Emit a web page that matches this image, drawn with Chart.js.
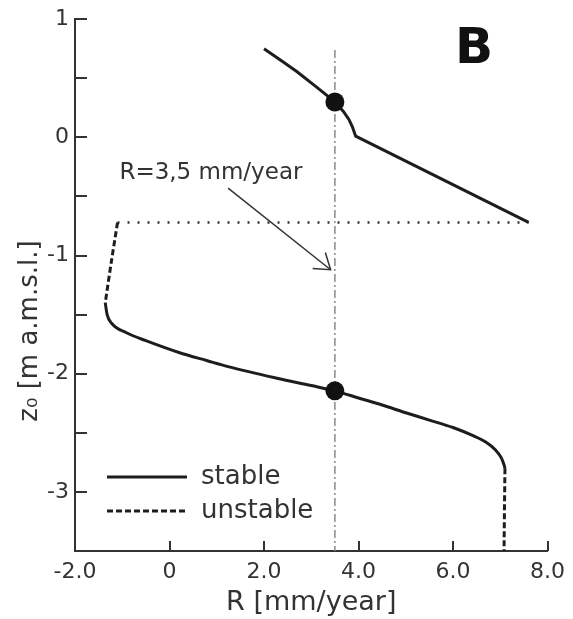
<!DOCTYPE html>
<html>
<head>
<meta charset="utf-8">
<title>z0 vs R</title>
<script src="https://cdn.jsdelivr.net/npm/chart.js@4/dist/chart.umd.min.js"></script>
<style>
  html, body { margin: 0; padding: 0; background: #fff; }
  #wrap { width: 573px; height: 619px; }
</style>
</head>
<body>
<div id="wrap"><canvas id="chart" width="573" height="619"></canvas></div>
<script>
// Upper stable branch (R in mm/year, z0 in m a.m.s.l.)
const upperR = [2.0, 2.4, 2.7, 3.1, 3.5, 3.68, 3.8, 3.87, 3.94, 7.6];
const upperZ = [0.75, 0.64, 0.555, 0.43, 0.30, 0.22, 0.15, 0.09, 0.01, -0.72];

// Lower branch: unstable top part, stable middle, unstable bottom part
const unstableTopR = [-1.1, -1.23, -1.36];
const unstableTopZ = [-0.72, -1.05, -1.40];
const stableLowR = [-1.36, -1.32, -1.22, -0.9, -0.5, 0.2, 0.8, 1.24, 2.3, 3.0, 3.5, 4.0, 4.5, 5.0, 5.5, 6.0, 6.4, 6.7, 6.9, 7.02, 7.08, 7.1];
const stableLowZ = [-1.40, -1.50, -1.575, -1.655, -1.72, -1.82, -1.89, -1.94, -2.04, -2.10, -2.145, -2.205, -2.265, -2.33, -2.392, -2.455, -2.52, -2.58, -2.645, -2.71, -2.77, -2.80];
const unstableBotR = [7.1, 7.09, 7.08];
const unstableBotZ = [-2.80, -3.1, -3.5];

// Threshold line and the R = 3.5 reference line
const thresholdZ = -0.72;
const thresholdR = [-1.1, 7.6];
const refR = 3.5;
const refZ = [0.74, -3.5];

// Intersections of the reference line with the stable branches
const equilR = [3.5, 3.5];
const equilZ = [0.30, -2.145];

// Annotation arrow (tail, head) in data units
const arrowFrom = [1.24, -0.43];
const arrowTo = [3.41, -1.12];

const FONT = "'DejaVu Sans', Verdana, sans-serif";
const INK = "#1d1d1d";

function toPoints(xs, ys) {
  return xs.map((x, i) => ({ x: x, y: ys[i] }));
}

// Inward tick marks, arrow, labels and legend
const decorations = {
  id: "decorations",
  afterDatasetsDraw(chart) {
    const ctx = chart.ctx;
    const xs = chart.scales.x;
    const ys = chart.scales.y;
    const area = chart.chartArea;

    ctx.save();
    ctx.strokeStyle = "#333";
    ctx.lineWidth = 2;
    ys.ticks.forEach((t) => {
      const py = Math.round(ys.getPixelForValue(t.value));
      ctx.beginPath();
      ctx.moveTo(area.left, py);
      ctx.lineTo(area.left + 12, py);
      ctx.stroke();
    });
    xs.ticks.forEach((t) => {
      const px = Math.round(xs.getPixelForValue(t.value));
      ctx.beginPath();
      ctx.moveTo(px, area.bottom);
      ctx.lineTo(px, area.bottom - 10);
      ctx.stroke();
    });

    // arrow pointing at the reference line
    const ax0 = xs.getPixelForValue(arrowFrom[0]);
    const ay0 = ys.getPixelForValue(arrowFrom[1]);
    const ax1 = xs.getPixelForValue(arrowTo[0]);
    const ay1 = ys.getPixelForValue(arrowTo[1]);
    const ang = Math.atan2(ay1 - ay0, ax1 - ax0);
    ctx.strokeStyle = "#333";
    ctx.lineWidth = 1.5;
    ctx.beginPath();
    ctx.moveTo(ax0, ay0);
    ctx.lineTo(ax1, ay1);
    ctx.stroke();
    ctx.beginPath();
    ctx.moveTo(ax1 - 18 * Math.cos(ang - 0.6), ay1 - 18 * Math.sin(ang - 0.6));
    ctx.lineTo(ax1, ay1);
    ctx.lineTo(ax1 - 18 * Math.cos(ang + 0.6), ay1 - 18 * Math.sin(ang + 0.6));
    ctx.stroke();

    ctx.fillStyle = "#333";
    ctx.textAlign = "left";
    ctx.textBaseline = "middle";
    ctx.font = "23px " + FONT;
    ctx.fillText("R=3,5 mm/year", xs.getPixelForValue(-1.06), ys.getPixelForValue(-0.30));

    // panel letter
    ctx.fillStyle = "#111";
    ctx.textAlign = "center";
    ctx.font = "bold 50px " + FONT;
    ctx.fillText("B", 474, 50);

    // legend
    ctx.strokeStyle = INK;
    ctx.lineWidth = 3;
    ctx.beginPath();
    ctx.moveTo(107, 477);
    ctx.lineTo(187, 477);
    ctx.stroke();
    ctx.setLineDash([6, 3]);
    ctx.beginPath();
    ctx.moveTo(107, 511);
    ctx.lineTo(187, 511);
    ctx.stroke();
    ctx.setLineDash([]);
    ctx.fillStyle = "#333";
    ctx.textAlign = "left";
    ctx.font = "26px " + FONT;
    ctx.fillText("stable", 201, 477);
    ctx.fillText("unstable", 201, 511);

    // rotated y title
    ctx.save();
    ctx.translate(30, 331);
    ctx.rotate(-Math.PI / 2);
    ctx.textAlign = "center";
    ctx.font = "26px " + FONT;
    ctx.fillText("z\u2080 [m a.m.s.l.]", 0, 0);
    ctx.restore();

    ctx.restore();
  },
};

function buildChart() {
  const line = (data, dash, width) => ({
    data: data,
    showLine: true,
    borderColor: INK,
    borderWidth: width,
    borderDash: dash,
    pointRadius: 0,
    fill: false,
  });

  // earlier datasets are painted on top
  const datasets = [
    {
      data: toPoints(equilR, equilZ),
      showLine: false,
      pointRadius: 9.5,
      pointBackgroundColor: "#111",
      pointBorderWidth: 0,
    },
    line(toPoints(upperR, upperZ), [], 3),
    Object.assign(line(toPoints(unstableTopR, unstableTopZ), [6, 3], 3), { tension: 0.3 }),
    Object.assign(line(toPoints(stableLowR, stableLowZ), [], 3), { cubicInterpolationMode: "monotone" }),
    line(toPoints(unstableBotR, unstableBotZ), [6, 3], 3),
    Object.assign(line(toPoints(thresholdR, [thresholdZ, thresholdZ]), [2, 8], 2.5), { borderColor: "#333" }),
    Object.assign(line(toPoints([refR, refR], refZ), [8, 3, 2, 3], 1.5), { borderColor: "#888" }),
  ];

  new Chart(document.getElementById("chart").getContext("2d"), {
    type: "scatter",
    data: { datasets: datasets },
    options: {
      responsive: false,
      animation: false,
      events: [],
      layout: { padding: { top: 17, right: 20, left: 0, bottom: 0 } },
      plugins: { legend: { display: false }, tooltip: { enabled: false } },
      scales: {
        x: {
          type: "linear",
          min: -2,
          max: 8,
          grid: { display: false, drawTicks: false },
          border: { display: true, color: "#333", width: 2 },
          afterFit: (scale) => { scale.height = 68; },
          ticks: {
            stepSize: 2,
            padding: 8,
            color: "#333",
            font: { family: FONT, size: 22 },
            callback: (v) => (v === 0 ? "0" : v.toFixed(1)),
          },
          title: {
            display: true,
            text: "R [mm/year]",
            color: "#333",
            padding: { top: 0, bottom: 0 },
            font: { family: FONT, size: 27 },
          },
        },
        y: {
          type: "linear",
          min: -3.5,
          max: 1,
          grid: { display: false, drawTicks: false },
          border: { display: true, color: "#333", width: 2 },
          afterFit: (scale) => { scale.width = 75; },
          ticks: {
            stepSize: 0.5,
            padding: 6,
            color: "#333",
            font: { family: FONT, size: 22 },
            callback: (v) => (Number.isInteger(v) ? String(v) : ""),
          },
        },
      },
    },
    plugins: [decorations],
  });
}

document.addEventListener("DOMContentLoaded", buildChart);
</script>
</body>
</html>
